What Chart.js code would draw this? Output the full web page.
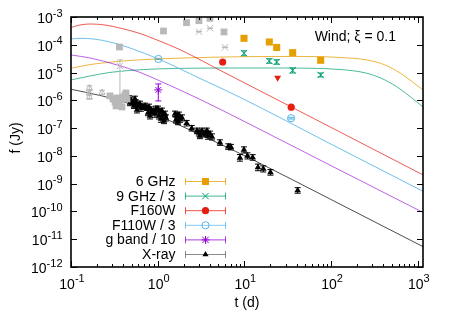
<!DOCTYPE html>
<html>
<head>
<meta charset="utf-8">
<script src="https://cdn.jsdelivr.net/npm/chart.js@4/dist/chart.umd.min.js"></script>
<style>
  html, body { margin: 0; padding: 0; background: #fff; }
</style>
</head>
<body>
<canvas id="lc" width="450" height="315"></canvas>
<script>
// ---- model curves: t (d), f (Jy) ----
var modelRedT    = [0.1, 0.127, 0.166, 0.247, 0.367, 0.625, 0.98, 1.81, 5.97, 14.45, 100, 1150];
var modelRedF    = [4.19e-4, 5.15e-4, 5.6e-4, 5.15e-4, 4.0e-4, 2.55e-4, 1.49e-4, 6.67e-5, 9.75e-6, 2.37e-6, 1.06e-7, 2.07e-9];
var modelBlueT   = [0.1, 0.127, 0.189, 0.282, 0.479, 1.02, 3.08, 8.89, 100, 1150];
var modelBlueF   = [1.62e-4, 1.71e-4, 1.59e-4, 1.26e-4, 7.67e-5, 3.08e-5, 6.14e-6, 1.29e-6, 2.65e-8, 5.3e-10];
var modelPurpleT = [0.1, 0.166, 0.34, 0.625, 1.06, 3.08, 8.89, 100, 1150];
var modelPurpleF = [4.3e-5, 3.35e-5, 1.88e-5, 1.01e-5, 4.99e-6, 1.08e-6, 2.09e-7, 4.44e-9, 9.2e-11];
var modelOrangeT = [0.1, 0.145, 0.216, 0.479, 0.98, 2.36, 5.97, 19.7, 57.2, 126.6, 259, 418, 623, 1150];
var modelOrangeF = [1.43e-5, 1.8e-5, 2.16e-5, 2.72e-5, 3.08e-5, 3.4e-5, 3.64e-5, 3.79e-5, 3.79e-5, 3.49e-5, 2.84e-5, 1.88e-5, 9.7e-6, 2.37e-6];
var modelGreenT  = [0.1, 0.166, 0.282, 0.479, 0.98, 2.36, 5.97, 19.7, 57.2, 126.6, 259, 418, 623, 1150];
var modelGreenF  = [5.42e-6, 7.55e-6, 1.01e-5, 1.19e-5, 1.35e-5, 1.43e-5, 1.46e-5, 1.46e-5, 1.43e-5, 1.29e-5, 9.44e-6, 5.42e-6, 2.57e-6, 5.8e-7];
var modelBlackT  = [0.1, 0.216, 0.454, 0.815, 1.46, 4.96, 12.6, 102, 1150];
var modelBlackF  = [2.5e-6, 1.5e-6, 7.9e-7, 3.8e-7, 1.7e-7, 2.9e-8, 7.2e-9, 2.6e-10, 5.4e-12];

// ---- observations ----
var ghz6T = [9.9, 19.4, 23.6, 36.1, 75.9];
var ghz6F = [1.71e-4, 1.26e-4, 8.0e-5, 5.2e-5, 2.77e-5];
var ghz9T = [9.9, 19.4, 23.6, 36.1, 75.9];
var ghz9F = [4.94e-5, 2.61e-5, 2.4e-5, 1.19e-5, 8.2e-6];
var ghz9Err = [0.09, 0.08, 0.08, 0.09, 0.07];       // dex
var f160T = [5.62, 34.7];
var f160F = [2.4e-5, 5.65e-7];
var f160LimT = [24.2];
var f160LimF = [6.5e-6];
var f110T = [1.02, 34.6];
var f110F = [3.08e-5, 2.27e-7];
var f110Err = [0.02, 0.03];
var gbandT = [1.016];
var gbandF = [2.37e-6];
var gbandLo = [9.5e-7];
var gbandHi = [3.89e-6];

var xrayT = [0.467, 0.492, 0.519, 0.547, 0.562, 0.593, 0.625, 0.641, 0.676, 0.533, 0.577, 0.479,
  0.714, 0.753, 0.794, 0.837, 0.859, 0.906, 0.931, 0.773, 0.815, 0.955,
  1.008, 1.063, 1.121, 1.151, 1.214, 1.246, 1.091, 1.182, 1.035,
  1.583, 1.670, 1.761, 1.808, 1.907, 1.714, 1.626,
  2.16, 2.47,
  2.84, 2.99, 3.24, 3.42, 3.61, 3.80, 4.01, 4.23, 3.07, 3.70,
  5.23, 6.52, 7.00, 9.89, 8.89, 10.86, 12.46, 14.35, 16.52, 20.0, 41.2];
var xrayF = [1.22e-6, 1.03e-6, 8.75e-7, 1.12e-6, 8.05e-7, 6.84e-7, 7.43e-7, 5.33e-7, 5.79e-7, 6.29e-7, 4.52e-7, 8.05e-7,
  6.29e-7, 5.33e-7, 5.79e-7, 4.52e-7, 3.83e-7, 4.16e-7, 3.24e-7, 3.52e-7, 2.75e-7, 4.91e-7,
  4.91e-7, 3.83e-7, 4.16e-7, 2.99e-7, 3.24e-7, 2.33e-7, 2.14e-7, 1.82e-7, 2.75e-7,
  3.24e-7, 2.75e-7, 2.99e-7, 2.14e-7, 2.33e-7, 1.67e-7, 1.97e-7,
  1.50e-7, 9.9e-8,
  7.93e-8, 6.72e-8, 7.93e-8, 6.18e-8, 6.72e-8, 5.24e-8, 6.18e-8, 4.82e-8, 5.24e-8, 7.93e-8,
  3.01e-8, 2.16e-8, 2.06e-8, 1.64e-8, 8.5e-9, 1.0e-8, 8.8e-9, 3.85e-9, 3.4e-9, 2.55e-9, 5.7e-10];
var xrayErr = [0.08, 0.1, 0.09, 0.1, 0.11, 0.09, 0.1, 0.12, 0.1, 0.09, 0.11, 0.1,
  0.1, 0.09, 0.1, 0.11, 0.1, 0.09, 0.12, 0.1, 0.11, 0.1,
  0.1, 0.11, 0.1, 0.12, 0.1, 0.11, 0.12, 0.1, 0.11,
  0.1, 0.11, 0.1, 0.12, 0.11, 0.1, 0.11,
  0.1, 0.1,
  0.1, 0.11, 0.1, 0.11, 0.1, 0.12, 0.1, 0.11, 0.1, 0.1,
  0.1, 0.1, 0.1, 0.11, 0.12, 0.11, 0.1, 0.12, 0.11, 0.1, 0.1];

// earlier data, grey
var greySqT = [0.362, 1.167, 2.15, 2.99, 4.01, 5.82, 0.282, 0.305, 0.322, 0.340, 0.358, 0.377, 0.398, 0.420, 0.443, 0.331, 0.387, 0.431];
var greySqF = [8.33e-5, 3.13e-4, 6.24e-4, 7.36e-4, 8.98e-4, 2.89e-4, 1.44e-6, 1.12e-6, 8.75e-7, 1.22e-6, 7.43e-7, 1.03e-6, 1.32e-6, 1.56e-6, 1.12e-6, 6.29e-7, 5.79e-7, 1.85e-6];
var greyXT = [2.99, 4.01, 5.97, 0.367];
var greyXF = [2.96e-4, 3.92e-4, 8.13e-5, 1.73e-5];
var greyXLo = [2.96e-4, 3.92e-4, 8.13e-5, 1.03e-6];
var greyXHi = [2.96e-4, 3.92e-4, 8.13e-5, 2.84e-5];
var greyTriT = [0.163, 0.163, 0.163, 0.228];
var greyTriF = [2.79e-6, 1.85e-6, 1.32e-6, 1.92e-6];

var xTickExp = [-1, 0, 1, 2, 3];
var yTickExp = [-12, -11, -10, -9, -8, -7, -6, -5, -4, -3];

var FONT = '"Liberation Sans", Arial, sans-serif';
var C_ORANGE = '#e69f00', C_GREEN = '#009e73', C_RED = '#e51e10',
    C_BLUE = '#56b4e9', C_PURPLE = '#9400d3', C_GREY = '#b8b8b8';

function pts(ts, fs) {
  return ts.map(function (t, i) { return { x: t, y: fs[i] }; });
}
function dexLo(fs, e) { return fs.map(function (f, i) { return f / Math.pow(10, e[i]); }); }
function dexHi(fs, e) { return fs.map(function (f, i) { return f * Math.pow(10, e[i]); }); }

function model(ts, fs, color) {
  return {
    data: pts(ts, fs), showLine: true, borderColor: color, borderWidth: 1,
    pointRadius: 0, cubicInterpolationMode: 'monotone', fill: false
  };
}

var datasets = [
  { data: pts(greyTriT, greyTriF), pointStyle: 'triangle', pointRadius: 3.5, borderColor: C_GREY,
    backgroundColor: 'rgba(0,0,0,0)', borderWidth: 1,
    errLo: dexLo(greyTriF, [0.08, 0.08, 0.08, 0.08]), errHi: dexHi(greyTriF, [0.08, 0.08, 0.08, 0.08]), errColor: C_GREY },
  { data: pts(greySqT, greySqF), pointStyle: 'rect', pointRadius: 4.8, borderWidth: 0,
    backgroundColor: C_GREY, borderColor: C_GREY },
  { data: pts(greyXT, greyXF), pointStyle: 'crossRot', pointRadius: 4.5, borderWidth: 1,
    borderColor: C_GREY, errLo: greyXLo, errHi: greyXHi, errColor: C_GREY },
  model(modelRedT, modelRedF, 'rgba(229,30,16,0.72)'),
  model(modelBlueT, modelBlueF, 'rgba(86,180,233,0.85)'),
  model(modelPurpleT, modelPurpleF, 'rgba(148,0,211,0.62)'),
  model(modelOrangeT, modelOrangeF, 'rgba(230,159,0,0.75)'),
  model(modelGreenT, modelGreenF, 'rgba(0,158,115,0.7)'),
  model(modelBlackT, modelBlackF, 'rgba(0,0,0,0.7)'),
  { label: '6 GHz', data: pts(ghz6T, ghz6F), pointStyle: 'rect', pointRadius: 5, borderWidth: 0,
    backgroundColor: C_ORANGE, borderColor: C_ORANGE, key: 'square' },
  { label: '9 GHz / 3', data: pts(ghz9T, ghz9F), pointStyle: 'crossRot', pointRadius: 4.5, borderWidth: 1,
    borderColor: C_GREEN, errLo: dexLo(ghz9F, ghz9Err), errHi: dexHi(ghz9F, ghz9Err), errColor: C_GREEN, key: 'cross' },
  { label: 'F160W', data: pts(f160T, f160F), pointStyle: 'circle', pointRadius: 3.6, borderWidth: 0,
    backgroundColor: C_RED, borderColor: C_RED, key: 'dot' },
  { data: pts(f160LimT, f160LimF), pointStyle: 'triangle', rotation: 180, pointRadius: 4, borderWidth: 0,
    backgroundColor: C_RED, borderColor: C_RED },
  { label: 'F110W / 3', data: pts(f110T, f110F), pointStyle: 'circle', pointRadius: 3.6, borderWidth: 1,
    backgroundColor: 'rgba(0,0,0,0)', borderColor: C_BLUE,
    errLo: dexLo(f110F, f110Err), errHi: dexHi(f110F, f110Err), errColor: C_BLUE, key: 'ring' },
  { label: 'g band / 10', data: pts(gbandT, gbandF), pointStyle: 'star', pointRadius: 4, borderWidth: 1,
    borderColor: C_PURPLE, errLo: gbandLo, errHi: gbandHi, errColor: C_PURPLE, key: 'star' },
  { label: 'X-ray', data: pts(xrayT, xrayF), pointStyle: 'triangle', pointRadius: 3.8, borderWidth: 0,
    backgroundColor: '#000', borderColor: '#000',
    errLo: dexLo(xrayF, xrayErr), errHi: dexHi(xrayF, xrayErr), errColor: '#000', key: 'tri' }
];

// error bars drawn under each dataset's points
var errorBars = {
  id: 'errorBars',
  beforeDatasetDraw: function (chart, args) {
    var ds = chart.data.datasets[args.index];
    if (!ds.errLo) return;
    var ctx = chart.ctx, xs = chart.scales.x, ys = chart.scales.y;
    ctx.save();
    ctx.strokeStyle = ds.errColor;
    ctx.lineWidth = 1;
    ds.data.forEach(function (p, i) {
      var x = xs.getPixelForValue(p.x);
      var y1 = ys.getPixelForValue(ds.errLo[i]), y2 = ys.getPixelForValue(ds.errHi[i]);
      ctx.beginPath();
      ctx.moveTo(x, y1); ctx.lineTo(x, y2);
      ctx.moveTo(x - 3, y1); ctx.lineTo(x + 3, y1);
      ctx.moveTo(x - 3, y2); ctx.lineTo(x + 3, y2);
      ctx.stroke();
    });
    ctx.restore();
  }
};

function drawPow(ctx, exp, x, y, centre) {
  ctx.font = '14px ' + FONT;
  var wb = ctx.measureText('10').width;
  ctx.font = '11px ' + FONT;
  var we = ctx.measureText(exp).width;
  var x0 = centre ? x - (wb + we) / 2 : x - wb - we;
  ctx.textAlign = 'left';
  ctx.font = '14px ' + FONT;
  ctx.fillText('10', x0, y);
  ctx.font = '11px ' + FONT;
  ctx.fillText(exp, x0 + wb, y - 6.5);
}

function keyMarker(ctx, kind, color, x, y) {
  ctx.fillStyle = color; ctx.strokeStyle = color; ctx.lineWidth = 1;
  ctx.beginPath();
  if (kind === 'square') { ctx.fillRect(x - 3.5, y - 3.5, 7, 7); return; }
  if (kind === 'dot') { ctx.arc(x, y, 3.6, 0, 2 * Math.PI); ctx.fill(); return; }
  if (kind === 'ring') { ctx.arc(x, y, 3.6, 0, 2 * Math.PI); ctx.stroke(); return; }
  if (kind === 'tri') {
    ctx.moveTo(x, y - 3.6); ctx.lineTo(x + 3.1, y + 1.8); ctx.lineTo(x - 3.1, y + 1.8);
    ctx.closePath(); ctx.fill(); return;
  }
  var r = 3.2;
  ctx.moveTo(x - r, y - r); ctx.lineTo(x + r, y + r);
  ctx.moveTo(x - r, y + r); ctx.lineTo(x + r, y - r);
  if (kind === 'star') { ctx.moveTo(x - 4, y); ctx.lineTo(x + 4, y); ctx.moveTo(x, y - 4); ctx.lineTo(x, y + 4); }
  ctx.stroke();
}

var frame = {
  id: 'frame',
  afterDraw: function (chart) {
    var ctx = chart.ctx, a = chart.chartArea, xs = chart.scales.x, ys = chart.scales.y;
    ctx.save();
    ctx.strokeStyle = '#000';
    ctx.lineWidth = 1;
    ctx.beginPath();
    xTickExp.forEach(function (e) {
      for (var m = 1; m <= 9; m++) {
        var v = m * Math.pow(10, e);
        if (v > xs.max) break;
        var x = Math.round(xs.getPixelForValue(v)) + 0.5, len = m === 1 ? 6 : 3;
        ctx.moveTo(x, a.bottom); ctx.lineTo(x, a.bottom - len);
        ctx.moveTo(x, a.top); ctx.lineTo(x, a.top + len);
      }
    });
    yTickExp.forEach(function (e) {
      var y = Math.round(ys.getPixelForValue(Math.pow(10, e))) + 0.5;
      ctx.moveTo(a.left, y); ctx.lineTo(a.left + 6, y);
      ctx.moveTo(a.right, y); ctx.lineTo(a.right - 6, y);
    });
    ctx.stroke();
    ctx.lineWidth = 1.6;
    ctx.strokeRect(a.left, a.top, a.right - a.left, a.bottom - a.top);

    ctx.fillStyle = '#000';
    ctx.textBaseline = 'alphabetic';
    xTickExp.forEach(function (e) {
      drawPow(ctx, String(e), xs.getPixelForValue(Math.pow(10, e)) + 1, a.bottom + 21.5, true);
    });
    yTickExp.forEach(function (e) {
      drawPow(ctx, String(e), a.left - 8.5, ys.getPixelForValue(Math.pow(10, e)) + 6, false);
    });

    ctx.font = '14px ' + FONT;
    ctx.textAlign = 'center';
    ctx.fillText('t (d)', (a.left + a.right) / 2, 307);
    ctx.save();
    ctx.translate(20, (a.top + a.bottom) / 2 - 4);
    ctx.rotate(-Math.PI / 2);
    ctx.fillText('f (Jy)', 0, 0);
    ctx.restore();

    ctx.textAlign = 'right';
    ctx.fillText('Wind; \u03be = 0.1', 396, 40.5);

    // key
    var rowY = 181;
    chart.data.datasets.forEach(function (ds) {
      if (!ds.label) return;
      var col = ds.errColor || ds.backgroundColor;
      ctx.fillStyle = '#000';
      ctx.textAlign = 'right';
      ctx.font = '14px ' + FONT;
      ctx.fillText(ds.label, 175.5, rowY + 5);
      ctx.strokeStyle = col === '#000' ? '#666' : col;
      ctx.globalAlpha = 0.75;
      ctx.lineWidth = 1;
      ctx.beginPath();
      ctx.moveTo(185, rowY + 0.5); ctx.lineTo(226, rowY + 0.5);
      ctx.moveTo(185.5, rowY - 3); ctx.lineTo(185.5, rowY + 4);
      ctx.moveTo(225.5, rowY - 3); ctx.lineTo(225.5, rowY + 4);
      ctx.stroke();
      ctx.globalAlpha = 1;
      keyMarker(ctx, ds.key, col, 205.5, rowY + 0.5);
      rowY += 14.6;
    });
    ctx.restore();
  }
};

new Chart(document.getElementById('lc'), {
  type: 'scatter',
  data: { datasets: datasets },
  options: {
    responsive: false,
    animation: false,
    devicePixelRatio: 1,
    events: [],
    layout: { padding: { left: 71, right: 27, top: 17, bottom: 48 } },
    plugins: { legend: { display: false }, tooltip: { enabled: false } },
    scales: {
      x: { type: 'logarithmic', min: 0.1, max: 1150, display: false },
      y: { type: 'logarithmic', min: 1e-12, max: 1e-3, display: false }
    }
  },
  plugins: [errorBars, frame]
});
</script>
</body>
</html>
